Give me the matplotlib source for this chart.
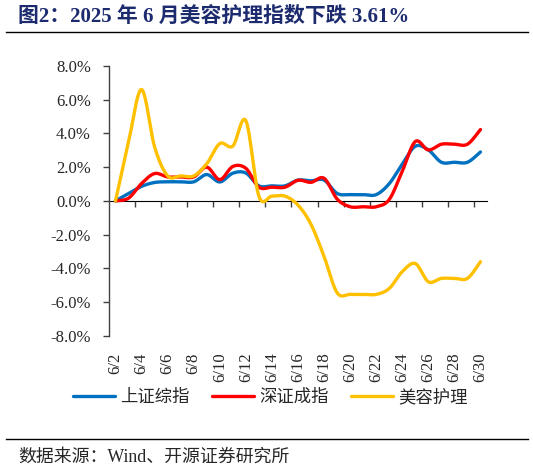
import numpy as np
import matplotlib
matplotlib.use("Agg")
import matplotlib.pyplot as plt
from matplotlib.lines import Line2D
from matplotlib.ticker import PercentFormatter

plt.rcParams['axes.unicode_minus'] = False

dates = ['6/%d' % d for d in range(2, 31)]
sh_index = [0.00, 0.43, 0.86, 1.09, 1.13, 1.13, 1.13, 1.56, 1.12, 1.64, 1.65, 0.89, 0.89, 0.89,
            1.23, 1.19, 1.23, 0.44, 0.37, 0.37, 0.37, 1.02, 2.18, 3.24, 3.02, 2.29, 2.29, 2.29, 2.90]
sz_index = [0.00, 0.16, 1.03, 1.62, 1.42, 1.42, 1.42, 2.00, 1.26, 2.04, 1.93, 0.81, 0.81, 0.81,
            1.22, 1.10, 1.34, 0.11, -0.35, -0.35, -0.35, 0.08, 1.76, 3.52, 3.02, 3.36, 3.36, 3.36, 4.23]
beauty = [0.00, 3.50, 6.60, 3.20, 1.48, 1.48, 1.48, 2.20, 3.40, 3.25, 4.75, 0.28, 0.28, 0.28,
          -0.25, -1.40, -3.30, -5.45, -5.55, -5.55, -5.55, -5.20, -4.20, -3.72, -4.80, -4.60, -4.60, -4.60, -3.61]
series_names = ['上证综指', '深证成指', '美容护理']
series_colors = ['#0070C0', '#FF0000', '#FFC000']

title = '图2：2025 年 6 月美容护理指数下跌 3.61%'
source = '数据来源：Wind、开源证券研究所'


def smooth(xs, ys, n=24):
    """Excel-like smoothed line (Bezier through points, Catmull-Rom controls)."""
    P = np.column_stack([xs, ys]).astype(float)
    m = len(P)
    out = [P[0]]
    t = np.linspace(0, 1, n + 1)[1:][:, None]
    for i in range(m - 1):
        p0 = P[i - 1] if i > 0 else P[i]
        p1 = P[i]
        p2 = P[i + 1]
        p3 = P[i + 2] if i + 2 < m else P[i + 1]
        c1 = p1 + (p2 - p0) / 6.0
        c2 = p2 - (p3 - p1) / 6.0
        seg = ((1 - t) ** 3) * p1 + 3 * ((1 - t) ** 2) * t * c1 + 3 * (1 - t) * t ** 2 * c2 + t ** 3 * p2
        out.extend(seg)
    out = np.array(out)
    return out[:, 0], out[:, 1]


W, H = 533, 468
fig = plt.figure(figsize=(W / 100, H / 100), dpi=100)
ax = fig.add_axes([109 / W, 1 - 335.7 / H, (487 - 109) / W, (335.7 - 66) / H])

serif = ['Liberation Serif', 'Noto Sans CJK SC']
cjk = ['Noto Sans CJK SC', 'DejaVu Sans']

x = np.arange(len(dates))
for vals, name, col in zip([sh_index, sz_index, beauty], series_names, series_colors):
    sx, sy = smooth(x, vals)
    ax.plot(sx, sy, color=col, lw=2.4, label=name, solid_capstyle='round')

ax.set_xlim(-0.5, len(dates) - 0.5)
ax.set_ylim(-8, 8)
ax.set_yticks(np.arange(-8, 8.1, 2))
ax.yaxis.set_major_formatter(PercentFormatter(xmax=100, decimals=1))
axis_col = '#404040'
for s in ['top', 'right', 'bottom']:
    ax.spines[s].set_visible(False)
ax.spines['left'].set_color(axis_col)
ax.spines['left'].set_linewidth(1.0)
ax.tick_params(axis='y', direction='out', length=4, width=1, color=axis_col, pad=9,
               labelsize=12, labelcolor='#262626')
ax.set_xticks(x[::2])
ax.set_xticklabels(dates[::2], rotation=90)
ax.tick_params(axis='x', length=0, pad=12, labelsize=12, labelcolor='#262626')
for lab in ax.get_xticklabels() + ax.get_yticklabels():
    lab.set_family(serif)

# zero axis line with tick marks between category pairs
sec = ax.secondary_xaxis(0.5)
sec.set_xticks(np.arange(1.5, len(dates) - 1, 2))
sec.set_xticklabels([])
sec.tick_params(axis='x', direction='in', length=4, width=1, color=axis_col)
sec.spines['bottom'].set_color(axis_col)
sec.spines['bottom'].set_linewidth(1.0)

leg = fig.legend(loc='center', bbox_to_anchor=(270.5 / W, 1 - 397 / H), ncol=3, frameon=False,
                 handlelength=2.4, handletextpad=0.3, columnspacing=1.3,
                 prop={'family': cjk, 'size': 12.5})
for t in leg.get_texts():
    t.set_color('#262626')

fig.text(18 / W, 1 - 16.5 / H, title, fontsize=15, fontweight='bold', color='#1C2A6E',
         family=serif, va='center', ha='left')
fig.add_artist(Line2D([6 / W, 528 / W], [1 - 32 / H, 1 - 32 / H], color='black', lw=1.0))
fig.add_artist(Line2D([6 / W, 528 / W], [1 - 439 / H, 1 - 439 / H], color='black', lw=1.0))
fig.text(18 / W, 1 - 457 / H, source, fontsize=12.9, color='#262626', family=serif,
         va='center', ha='left')

fig.savefig('out.png', dpi=100)
